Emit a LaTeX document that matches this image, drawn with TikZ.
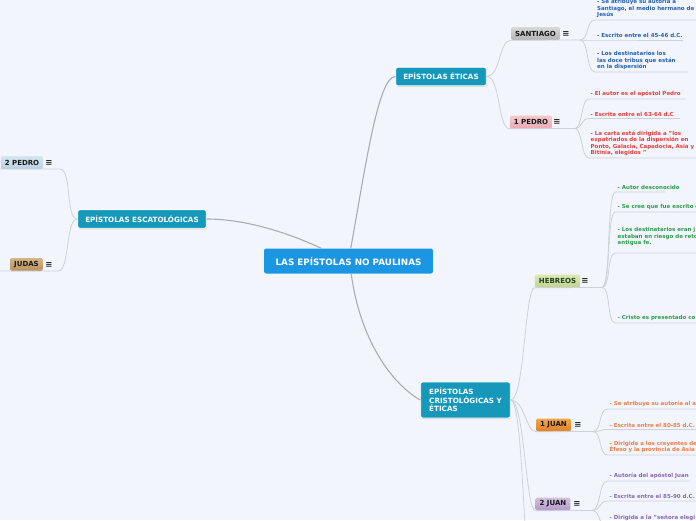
\documentclass[tikz,border=0pt]{standalone}
\usepackage{fontspec}
\setmainfont{DejaVu Sans}
\usetikzlibrary{shadows}
\definecolor{fondo}{HTML}{F3F5FC}
\definecolor{azul}{HTML}{1B96E3}
\definecolor{turq}{HTML}{1598BA}
\definecolor{linea}{HTML}{ABADB5}
\definecolor{gris}{HTML}{CDD1DB}
\definecolor{txtsan}{HTML}{2563B0}
\definecolor{txtped}{HTML}{E5403F}
\definecolor{txtheb}{HTML}{2E9E4E}
\definecolor{txtjuA}{HTML}{EE7F4A}
\definecolor{txtjuB}{HTML}{8A6AB5}
\definecolor{sanA}{HTML}{D9D9D9}\definecolor{sanB}{HTML}{B3B3B3}
\definecolor{pedA}{HTML}{F6C9CF}\definecolor{pedB}{HTML}{E9A9B5}
\definecolor{pedC}{HTML}{D6E5F1}\definecolor{pedD}{HTML}{B9D0E3}
\definecolor{judA}{HTML}{D4B587}\definecolor{judB}{HTML}{B8935F}
\definecolor{hebA}{HTML}{DDE8B5}\definecolor{hebB}{HTML}{C2D38E}\definecolor{hebT}{HTML}{1F4220}
\definecolor{juaA}{HTML}{F3A54A}\definecolor{juaB}{HTML}{E0822A}
\definecolor{juaC}{HTML}{D3BFE0}\definecolor{juaD}{HTML}{B39AC9}
\begin{document}
\begin{tikzpicture}[x=1pt,y=-1pt,
raiz/.style={fill=azul,text=white,rounded corners=2pt,inner xsep=11.5pt,minimum height=25pt,font=\fontsize{8.8}{10}\selectfont\bfseries},
grupo/.style={fill=turq,draw=white,line width=.8pt,text=white,rounded corners=2pt,inner xsep=7.5pt,minimum height=18.5pt,drop shadow={opacity=.25,shadow xshift=.5pt,shadow yshift=-1pt},font=\fontsize{7.2}{8.6}\selectfont\bfseries},
carta/.style 2 args={top color=#1,bottom color=#2,text=black!90,rounded corners=1.5pt,inner xsep=4pt,inner ysep=0pt,minimum height=13pt,font=\fontsize{7}{8}\selectfont\bfseries},
menu/.style={inner sep=0pt,text=black!85,font=\fontsize{8.5}{9}\selectfont\bfseries},
punto/.style={anchor=south west,inner xsep=2pt,inner ysep=2pt,align=left,font=\fontsize{5.5}{6.4}\selectfont\bfseries},
enlace/.style={draw=linea,line width=1.1pt},
rama/.style={draw=gris,line width=.8pt}]
\path[use as bounding box,fill=fondo](0,0)rectangle(696,520);
\clip(0,0)rectangle(696,520);
\node[raiz](raiz)at(348.5,261){LAS EPÍSTOLAS NO PAULINAS};
\node[grupo](eticas)at(441,76.5){EPÍSTOLAS ÉTICAS};
\node[grupo](escat)at(142,219){EPÍSTOLAS ESCATOLÓGICAS};
\node[grupo,align=left,inner xsep=8.5pt,minimum height=36pt](cristo)at(465.5,400){EPÍSTOLAS\\CRISTOLÓGICAS Y\\ÉTICAS};
\draw[enlace](raiz.80)..controls(365,170)and(378,76.5)..(eticas.west);
\draw[enlace](raiz.155)..controls(295,236)and(250,219)..(escat.east);
\draw[enlace](raiz.-78)..controls(360,340)and(392,384)..(cristo.west);
\node[carta={sanA}{sanB}](santiago)at(535.5,33.5){SANTIAGO};\node[menu](santiagoM)at(566,33.5){≡};\coordinate(santiagoE)at(580,40);
\node[carta={pedA}{pedB}](pedroA)at(531,122){1 PEDRO};\node[menu](pedroAM)at(557,122){≡};\coordinate(pedroAE)at(575,128.5);
\node[carta={pedC}{pedD}](pedroB)at(22,162.5){2 PEDRO};\node[menu](pedroBM)at(49,162.5){≡};\coordinate(pedroBE)at(60,169);
\node[carta={judA}{judB}](judas)at(26.5,264.5){JUDAS};\node[menu](judasM)at(49,264.5){≡};\coordinate(judasE)at(58,271);
\node[carta={hebA}{hebB},text=hebT](hebreos)at(557.5,281){HEBREOS};\node[menu](hebreosM)at(585,281){≡};\coordinate(hebreosE)at(602,287.5);
\node[carta={juaA}{juaB}](juanA)at(553.5,425){1 JUAN};\node[menu](juanAM)at(578,425){≡};\coordinate(juanAE)at(593,431.5);
\node[carta={juaC}{juaD}](juanB)at(553,504){2 JUAN};\node[menu](juanBM)at(577,504){≡};\coordinate(juanBE)at(592,510.5);
\coordinate(cristoS)at(535,600);
\draw[rama](eticas.east)..controls+(14,0)and+(-12,0)..(santiago.south west)--(santiagoE);
\draw[rama](eticas.east)..controls+(14,0)and+(-12,0)..(pedroA.south west)--(pedroAE);
\draw[rama](escat.west)..controls+(-12,0)and+(12,0)..(pedroBE)--++(-60,0);
\draw[rama](escat.west)..controls+(-12,0)and+(12,0)..(judasE)--++(-60,0);
\draw[rama](cristo.east)..controls+(14,0)and+(-10,0)..(hebreos.south west)--(hebreosE);
\draw[rama](cristo.east)..controls+(14,0)and+(-10,0)..(juanA.south west)--(juanAE);
\draw[rama](cristo.east)..controls+(14,0)and+(-10,0)..(juanB.south west)--(juanBE);
\draw[rama](cristo.east)..controls+(14,0)and+(-12,0)..(cristoS);
\foreach\nom/\y/\len/\txt in{sA/20/103/{- Se atribuye su autoría a\\Santiago, el medio hermano de\\Jesús},sB/40/88/{- Escrito entre el 45-46 d.C.},sC/72/93/{- Los destinatarios los\\las doce tribus que están\\en la dispersión}}{\node[punto,text=txtsan](\nom)at(595,\y){\txt};\draw[rama](santiagoE)..controls+(9,0)and+(-9,0)..(\nom.south west)--++(\len,0);}
\foreach\nom/\y/\len/\txt in{pA/99/96.5/{- El autor es el apóstol Pedro},pB/118.5/91.5/{- Escrita entre el 63-64 d.C},pC/158/110/{- La carta está dirigida a "los\\expatriados de la dispersión en\\Ponto, Galacia, Capadocia, Asia y\\Bitinia, elegidos "}}{\node[punto,text=txtped](\nom)at(588.5,\y){\txt};\draw[rama](pedroAE)..controls+(7,0)and+(-7,0)..(\nom.south west)--++(\len,0);}
\foreach\nom/\y/\len/\txt in{hA/192/49.5/{- Autor desconocido},hB/212/85/{- Se cree que fue escrito e},hC/253/85/{- Los destinatarios eran j\\estaban en riesgo de reto\\antigua fe.\\\mbox{}},hD/323/85/{- Cristo es presentado co}}{\node[punto,text=txtheb](\nom)at(615.5,\y){\txt};\draw[rama](hebreosE)..controls+(9,0)and+(-9,0)..(\nom.south west)--++(\len,0);}
\foreach\nom/\y/\len/\txt in{jA/409/90/{- Se atribuye su autoría al a},jB/429.5/90/{- Escrita entre el 80-85 d.C.},jC/455/90/{- Dirigida a los creyentes de\\Éfeso y la provincia de Asia}}{\node[punto,text=txtjuA](\nom)at(607.5,\y){\txt};\draw[rama](juanAE)..controls+(9,0)and+(-9,0)..(\nom.south west)--++(\len,0);}
\foreach\nom/\y/\len/\txt in{kA/481/82.5/{- Autoría del apóstol Juan},kB/501/90/{- Escrita entre el 85-90 d.C.},kC/528/90/{- Dirigida a la "señora elegi\\\mbox{}}}{\node[punto,text=txtjuB](\nom)at(607.5,\y){\txt};\draw[rama](juanBE)..controls+(9,0)and+(-9,0)..(\nom.south west)--++(\len,0);}
\end{tikzpicture}
\end{document}
